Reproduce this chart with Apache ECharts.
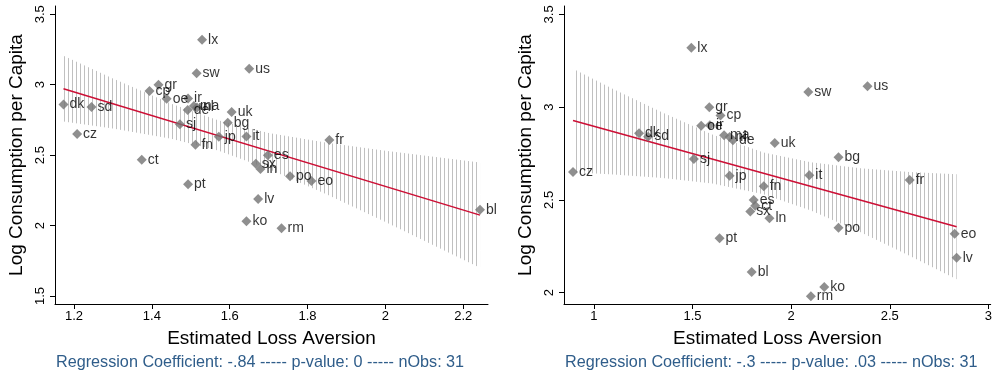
<!DOCTYPE html>
<html>
<head>
<meta charset="utf-8">
<script src="https://cdn.jsdelivr.net/npm/echarts@6/dist/echarts.min.js"></script>
<style>
  html, body { margin: 0; padding: 0; background: #ffffff; }
  #chart { width: 995px; height: 376px; }
</style>
</head>
<body>
<div id="chart"></div>
<script>
// Country codes and log consumption per capita (shared by both panels)
const countries = ['lx','us','sw','gr','cp','oe','ir','dk','sd','ma','nl','de','uk','bg','sj','cz','jp','it','fr','fn','es','ct','sx','ln','po','eo','pt','lv','bl','ko','rm'];
const logConsumption = [3.320,3.113,3.081,3.000,2.955,2.900,2.902,2.859,2.841,2.849,2.839,2.821,2.806,2.730,2.720,2.650,2.630,2.633,2.607,2.573,2.500,2.468,2.438,2.401,2.350,2.317,2.294,2.188,2.112,2.030,1.981];

// Estimated loss aversion, first and second estimate
const lossAversionA = [1.529,1.650,1.515,1.417,1.394,1.438,1.493,1.173,1.245,1.508,1.516,1.492,1.605,1.595,1.472,1.208,1.572,1.643,1.856,1.512,1.698,1.374,1.667,1.679,1.755,1.810,1.493,1.673,2.243,1.643,1.733];
const lossAversionB = [1.494,2.387,2.087,1.585,1.642,1.544,1.588,1.229,1.275,1.660,1.688,1.705,1.917,2.240,1.507,0.894,1.688,2.092,2.601,1.861,1.810,1.818,1.793,1.890,2.240,2.829,1.637,2.839,1.800,2.168,2.100];

// Fitted lines (end points) and confidence bands
const fitAX = [1.173, 2.243];
const fitAY = [2.972, 2.074];
const bandAX = [1.173, 1.30, 1.45, 1.57, 1.70, 1.85, 2.00, 2.15, 2.243];
const bandAUpper = [3.206, 3.045, 2.865, 2.747, 2.658, 2.588, 2.531, 2.479, 2.447];
const bandALower = [2.738, 2.689, 2.617, 2.533, 2.402, 2.220, 2.025, 1.825, 1.700];

const fitBX = [0.894, 2.839];
const fitBY = [2.928, 2.355];
const bandBX = [0.894, 1.10, 1.35, 1.60, 1.86, 2.10, 2.35, 2.60, 2.839];
const bandBUpper = [3.207, 3.097, 2.970, 2.852, 2.756, 2.703, 2.671, 2.651, 2.638];
const bandBLower = [2.649, 2.637, 2.618, 2.588, 2.530, 2.443, 2.327, 2.199, 2.072];

// Tick labels
const xTicksA = [1.2, 1.4, 1.6, 1.8, 2, 2.2];
const yTicksA = [1.5, 2, 2.5, 3, 3.5];
const xTicksB = [1, 1.5, 2, 2.5, 3];
const yTicksB = [2, 2.5, 3, 3.5];

const notes = [
  'Regression Coefficient: -.84 ----- p-value: 0 ----- nObs: 31',
  'Regression Coefficient: -.3 ----- p-value: .03 ----- nObs: 31'
];

const FONT = '"Liberation Sans", Arial, Helvetica, sans-serif';

// Vertical hatch used to fill the confidence band
const hatch = document.createElement('canvas');
hatch.width = 4; hatch.height = 4;
const hctx = hatch.getContext('2d');
hctx.fillStyle = '#c0c0c0';
hctx.fillRect(0, 0, 1, 4);

function xAxisFor(gridIndex, min, max, ticks) {
  return {
    type: 'value', gridIndex, min, max,
    name: 'Estimated Loss Aversion', nameLocation: 'middle', nameGap: 25,
    nameTextStyle: { fontSize: 19, color: '#000', fontFamily: FONT },
    axisLine: { show: true, onZero: false, lineStyle: { color: '#000', width: 1 } },
    axisTick: { show: true, length: 5, customValues: ticks, lineStyle: { color: '#000' } },
    axisLabel: { customValues: ticks, fontSize: 13, color: '#000', margin: 6, fontFamily: FONT },
    splitLine: { show: false }
  };
}
function yAxisFor(gridIndex, min, max, ticks) {
  return {
    type: 'value', gridIndex, min, max,
    name: 'Log Consumption per Capita', nameLocation: 'middle', nameGap: 29,
    nameTextStyle: { fontSize: 19, color: '#000', fontFamily: FONT },
    axisLine: { show: true, onZero: false, lineStyle: { color: '#000', width: 1 } },
    axisTick: { show: true, length: 5, customValues: ticks, lineStyle: { color: '#000' } },
    axisLabel: { customValues: ticks, fontSize: 13, color: '#000', margin: 8, rotate: 90, fontFamily: FONT },
    splitLine: { show: false }
  };
}

function bandSeries(idx, bx, bu, bl) {
  return {
    type: 'custom', xAxisIndex: idx, yAxisIndex: idx, z: 1, silent: true,
    data: [[bx[0], bu[0]]],
    renderItem: function (params, api) {
      const pts = [];
      for (let i = 0; i < bx.length; i++) pts.push(api.coord([bx[i], bu[i]]));
      for (let i = bx.length - 1; i >= 0; i--) pts.push(api.coord([bx[i], bl[i]]));
      return { type: 'polygon', shape: { points: pts }, style: { fill: { image: hatch, repeat: 'repeat' }, stroke: null } };
    }
  };
}
function fitSeries(idx, fx, fy) {
  return {
    type: 'line', xAxisIndex: idx, yAxisIndex: idx, z: 2, silent: true,
    showSymbol: false, symbol: 'none',
    data: fx.map((x, i) => [x, fy[i]]),
    lineStyle: { color: '#cc0f35', width: 1.5 }
  };
}
function scatterSeries(idx, xs) {
  return {
    type: 'scatter', xAxisIndex: idx, yAxisIndex: idx, z: 3,
    symbol: 'diamond', symbolSize: 10,
    itemStyle: { color: '#737373' },
    data: countries.map((c, i) => ({ name: c, value: [xs[i], logConsumption[i]] })),
    label: { show: true, position: 'right', distance: 1, formatter: '{b}', color: '#000', fontSize: 14, fontFamily: FONT }
  };
}

const chart = echarts.init(document.getElementById('chart'), null, { renderer: 'canvas' });
chart.setOption({
  animation: false,
  backgroundColor: '#ffffff',
  textStyle: { fontFamily: FONT },
  grid: [
    { left: 55, top: 6, width: 433, height: 298 },
    { left: 564, top: 6, width: 428, height: 298 }
  ],
  xAxis: [
    xAxisFor(0, 1.1512, 2.2635, xTicksA),
    xAxisFor(1, 0.8484, 3.0117, xTicksB)
  ],
  yAxis: [
    yAxisFor(0, 1.443, 3.559, yTicksA),
    yAxisFor(1, 1.939, 3.545, yTicksB)
  ],
  graphic: [
    { type: 'text', left: 56, top: 355, style: { text: notes[0], fontSize: 16.2, fill: '#2f5d8a', fontFamily: FONT } },
    { type: 'text', left: 565, top: 355, style: { text: notes[1], fontSize: 16.2, fill: '#2f5d8a', fontFamily: FONT } }
  ],
  series: [
    bandSeries(0, bandAX, bandAUpper, bandALower),
    fitSeries(0, fitAX, fitAY),
    scatterSeries(0, lossAversionA),
    bandSeries(1, bandBX, bandBUpper, bandBLower),
    fitSeries(1, fitBX, fitBY),
    scatterSeries(1, lossAversionB)
  ]
});
</script>
</body>
</html>
